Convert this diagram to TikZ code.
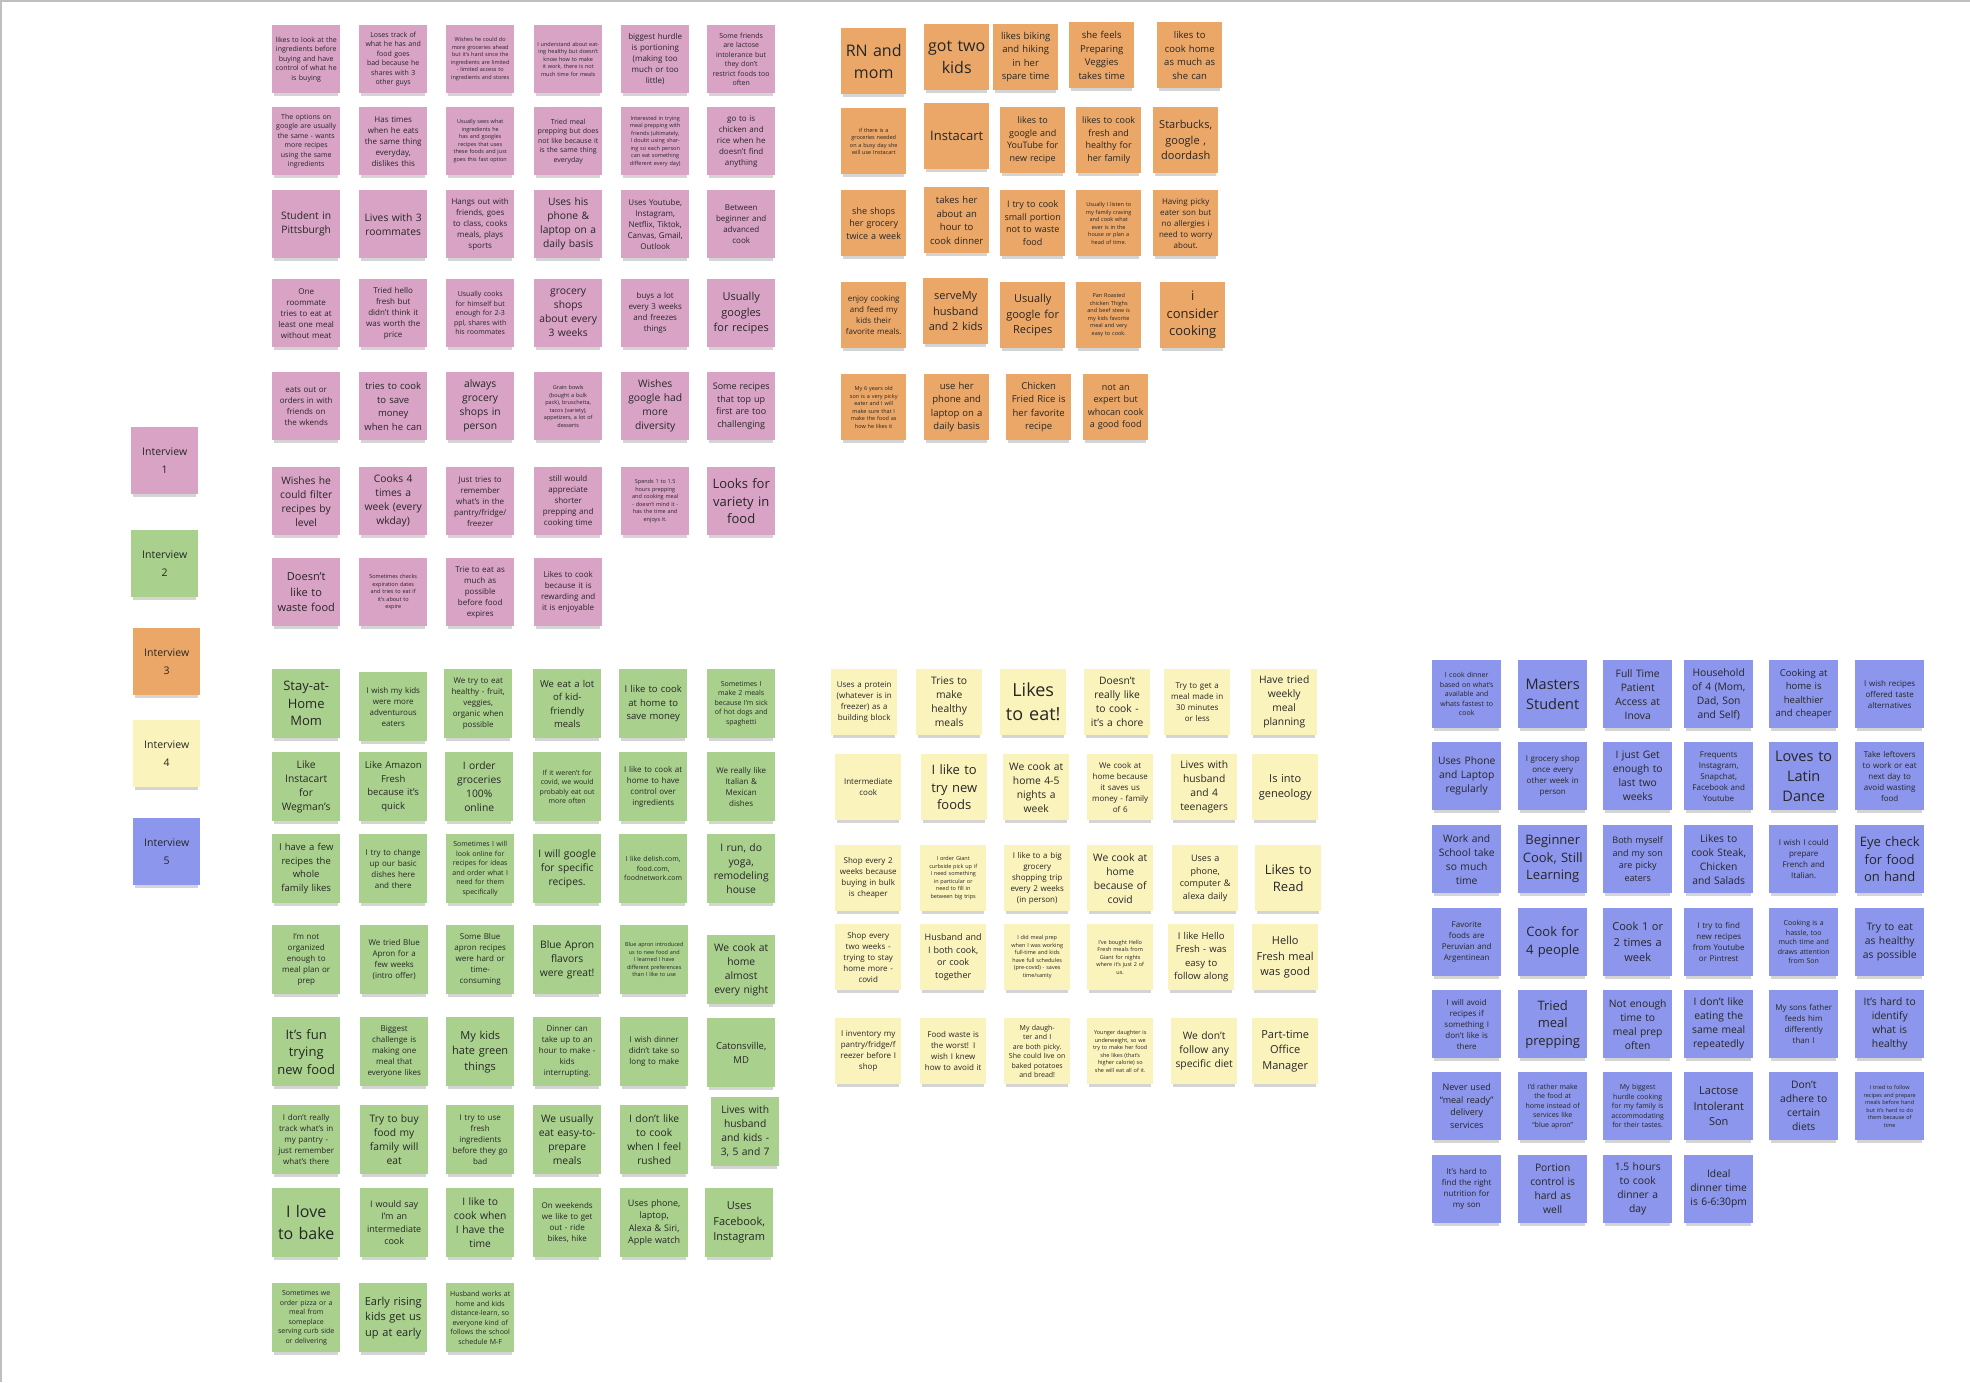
\documentclass[tikz,border=0pt]{standalone}
\usepackage{fontspec}
\setmainfont{Open Sans}
\usetikzlibrary{shadows}
\definecolor{pinkc}{RGB}{217,163,198}
\definecolor{greenc}{RGB}{169,208,141}
\definecolor{orangec}{RGB}{235,167,104}
\definecolor{yellowc}{RGB}{251,243,188}
\definecolor{bluec}{RGB}{140,150,236}
\tikzset{
 note/.style={anchor=north west, inner sep=0pt, align=center, text=black!85,
   minimum width=68pt, minimum height=68pt, text width=62pt,
   drop shadow={shadow xshift=0pt,shadow yshift=-5pt,shadow scale=0.94,opacity=0.3,fill=black!55}},
 pkn/.style={note, fill=pinkc},
 grn/.style={note, fill=greenc, minimum height=69pt},
 orn/.style={note, fill=orangec, minimum width=65pt, minimum height=66pt, text width=60pt},
 yen/.style={note, fill=yellowc, minimum width=66pt, minimum height=66pt, text width=60pt},
 bln/.style={note, fill=bluec, minimum width=69pt, minimum height=68pt},
 lgn/.style={note, minimum width=67pt, minimum height=67pt, font=\fontsize{10.5}{18}\selectfont},
 fT/.style={font=\fontsize{5.5}{7.5}\selectfont},
 fXS/.style={font=\fontsize{7}{9.5}\selectfont},
 fS/.style={font=\fontsize{8}{11}\selectfont},
 fSM/.style={font=\fontsize{9}{12.5}\selectfont},
 fMs/.style={font=\fontsize{9.5}{13.5}\selectfont},
 fM/.style={font=\fontsize{10.3}{14}\selectfont},
 fML/.style={font=\fontsize{11}{15.5}\selectfont},
 fL/.style={font=\fontsize{13}{17.5}\selectfont},
 fLL/.style={font=\fontsize{14.5}{20}\selectfont},
 fXL/.style={font=\fontsize{16}{22}\selectfont},
 fXXL/.style={font=\fontsize{18}{24}\selectfont},
}
\begin{document}
\begin{tikzpicture}[x=1pt,y=-1pt]
\useasboundingbox (0,0) rectangle (1970,1382);
\fill[white] (0,0) rectangle (1970,1382);
\draw[black!25, line width=1.5pt] (0.75,1382) -- (0.75,0.75) -- (1970,0.75);

% ---------- Legend ----------
\node[lgn, fill=pinkc] (l1) at (131,427) {Interview\\1};
\node[lgn, fill=greenc] (l2) at (131,530) {Interview\\2};
\node[lgn, fill=orangec] (l3) at (133,628) {Interview\\3};
\node[lgn, fill=yellowc] (l4) at (133,720) {Interview\\4};
\node[lgn, fill=bluec] (l5) at (133,818) {Interview\\5};

% ---------- Interview 1 (pink) ----------
\node[pkn,fXS] (p11) at (272,25) {likes to look at the\\ingredients before\\buying and have\\control of what he\\is buying};
\node[pkn,fXS] (p12) at (359,25) {Loses track of\\what he has and\\food goes\\bad because he\\shares with 3\\other guys};
\node[pkn,fT] (p13) at (446,25) {Wishes he could do more groceries ahead but it's hard since the ingredients are limited - limited access to ingredients and stores};
\node[pkn,fT] (p14) at (534,25) {I understand about eating healthy but doesn't know how to make it work, there is not much time for meals};
\node[pkn,fS] (p15) at (621,25) {biggest hurdle\\is portioning\\(making too\\much or too\\little)};
\node[pkn,fXS] (p16) at (707,25) {Some friends\\are lactose\\intolerance but\\they don't\\restrict foods too\\often};

\node[pkn,fXS] (p21) at (272,107) {The options on\\google are usually\\the same - wants\\more recipes\\using the same\\ingredients};
\node[pkn,fS] (p22) at (359,107) {Has times\\when he eats\\the same thing\\everyday,\\dislikes this};
\node[pkn,fT] (p23) at (446,107) {Usually sees what ingredients he has and googles recipes that uses these foods and just goes this fast option};
\node[pkn,fXS] (p24) at (534,107) {Tried meal\\prepping but does\\not like because it\\is the same thing\\everyday};
\node[pkn,fT] (p25) at (621,107) {Interested in trying meal prepping with friends (ultimately, I doubt using sharing so each person can eat something different every day)};
\node[pkn,fS] (p26) at (707,107) {go to is\\chicken and\\rice when he\\doesn't find\\anything};

\node[pkn,fM] (p31) at (272,190) {Student in\\Pittsburgh};
\node[pkn,fM] (p32) at (359,190) {Lives with 3\\roommates};
\node[pkn,fS] (p33) at (446,190) {Hangs out with\\friends, goes\\to class, cooks\\meals, plays\\sports};
\node[pkn,fM] (p34) at (534,190) {Uses his\\phone \&\\laptop on a\\daily basis};
\node[pkn,fS] (p35) at (621,190) {Uses Youtube,\\Instagram,\\Netflix, Tiktok,\\Canvas, Gmail,\\Outlook};
\node[pkn,fS] (p36) at (707,190) {Between\\beginner and\\advanced\\cook};

\node[pkn,fS] (p41) at (272,279) {One\\roommate\\tries to eat at\\least one meal\\without meat};
\node[pkn,fS] (p42) at (359,279) {Tried hello\\fresh but\\didn't think it\\was worth the\\price};
\node[pkn,fXS] (p43) at (446,279) {Usually cooks\\for himself but\\enough for 2-3\\ppl, shares with\\his roommates};
\node[pkn,fM] (p44) at (534,279) {grocery\\shops\\about every\\3 weeks};
\node[pkn,fS] (p45) at (621,279) {buys a lot\\every 3 weeks\\and freezes\\things};
\node[pkn,fML] (p46) at (707,279) {Usually\\googles\\for recipes};

\node[pkn,fS] (p51) at (272,372) {eats out or\\orders in with\\friends on\\the wkends};
\node[pkn,fMs] (p52) at (359,372) {tries to cook\\to save\\money\\when he can};
\node[pkn,fM] (p53) at (446,372) {always\\grocery\\shops in\\person};
\node[pkn,fT] (p54) at (534,372) {Grain bowls\\(bought a bulk\\pack), bruschetta,\\tacos (variety),\\appetizers, a lot of\\desserts};
\node[pkn,fM] (p55) at (621,372) {Wishes\\google had\\more\\diversity};
\node[pkn,fSM] (p56) at (707,372) {Some recipes\\that top up\\first are too\\challenging};

\node[pkn,fM] (p61) at (272,467) {Wishes he\\could filter\\recipes by\\level};
\node[pkn,fM] (p62) at (359,467) {Cooks 4\\times a\\week (every\\wkday)};
\node[pkn,fS] (p63) at (446,467) {Just tries to\\remember\\what's in the\\pantry/fridge/\\freezer};
\node[pkn,fS] (p64) at (534,467) {still would\\appreciate\\shorter\\prepping and\\cooking time};
\node[pkn,fT] (p65) at (621,467) {Spends 1 to 1.5\\hours prepping\\and cooking meal\\- doesn't mind it -\\has the time and\\enjoys it.};
\node[pkn,fL] (p66) at (707,467) {Looks for\\variety in\\food};

\node[pkn,fML] (p71) at (272,558) {Doesn't\\like to\\waste food};
\node[pkn,fT] (p72) at (359,558) {Sometimes checks\\expiration dates\\and tries to eat if\\it's about to\\expire};
\node[pkn,fS] (p73) at (446,558) {Trie to eat as\\much as\\possible\\before food\\expires};
\node[pkn,fS] (p74) at (534,558) {Likes to cook\\because it is\\rewarding and\\it is enjoyable};

% ---------- Interview 3 (orange) ----------
\node[orn,fXL] (o11) at (841,28) {RN and\\mom};
\node[orn,fXL] (o12) at (924,24) {got two\\kids};
\node[orn,fMs] (o13) at (993,24) {likes biking\\and hiking\\in her\\spare time};
\node[orn,fMs] (o14) at (1069,22) {she feels\\Preparing\\Veggies\\takes time};
\node[orn,fMs] (o15) at (1157,22) {likes to\\cook home\\as much as\\she can};

\node[orn,fT] (o21) at (841,108) {if there is a\\groceries needed\\on a busy day she\\will use Instacart};
\node[orn,fL] (o22) at (924,103) {Instacart};
\node[orn,fSM] (o23) at (1000,107) {likes to\\google and\\YouTube for\\new recipe};
\node[orn,fSM] (o24) at (1076,107) {likes to cook\\fresh and\\healthy for\\her family};
\node[orn,fML] (o25) at (1153,107) {Starbucks,\\google ,\\doordash};

\node[orn,fSM] (o31) at (841,190) {she shops\\her grocery\\twice a week};
\node[orn,fMs] (o32) at (924,187) {takes her\\about an\\hour to\\cook dinner};
\node[orn,fSM] (o33) at (1000,190) {I try to cook\\small portion\\not to waste\\food};
\node[orn,fT] (o34) at (1076,190) {Usually I listen to\\my family craving\\and cook what\\ever is in the\\house or plan a\\head of time.};
\node[orn,fS] (o35) at (1153,190) {Having picky\\eater son but\\no allergies i\\need to worry\\about.};

\node[orn,fS] (o41) at (841,282) {enjoy cooking\\and feed my\\kids their\\favorite meals.};
\node[orn,fML] (o42) at (923,278) {serveMy\\husband\\and 2 kids};
\node[orn,fML] (o43) at (1000,282) {Usually\\google for\\Recipes};
\node[orn,fT] (o44) at (1076,282) {Pan Roasted\\chicken Thighs\\and beef stew is\\my kids favorite\\meal and very\\easy to cook.};
\node[orn,fL] (o45) at (1160,282) {i\\consider\\cooking};

\node[orn,fT] (o51) at (841,374) {My 6 years old\\son is a very picky\\eater and I will\\make sure that I\\make the food as\\how he likes it};
\node[orn,fMs] (o52) at (924,374) {use her\\phone and\\laptop on a\\daily basis};
\node[orn,fMs] (o53) at (1006,374) {Chicken\\Fried Rice is\\her favorite\\recipe};
\node[orn,fSM] (o54) at (1083,374) {not an\\expert but\\whocan cook\\a good food};

% ---------- Interview 2 (green) ----------
\node[grn,fL] (g11) at (272,669) {Stay-at-\\Home\\Mom};
\node[grn,fS] (g12) at (359,672) {I wish my kids\\were more\\adventurous\\eaters};
\node[grn,fS] (g13) at (444,669) {We try to eat\\healthy - fruit,\\veggies,\\organic when\\possible};
\node[grn,fMs] (g14) at (533,669) {We eat a lot\\of kid-\\friendly\\meals};
\node[grn,fMs] (g15) at (619,669) {I like to cook\\at home to\\save money};
\node[grn,fXS] (g16) at (707,669) {Sometimes I\\make 2 meals\\because I'm sick\\of hot dogs and\\spaghetti};

\node[grn,fM] (g21) at (272,752) {Like\\Instacart\\for\\Wegman's};
\node[grn,fMs] (g22) at (359,752) {Like Amazon\\Fresh\\because it's\\quick};
\node[grn,fM] (g23) at (445,752) {I order\\groceries\\100\%\\online};
\node[grn,fXS] (g24) at (533,752) {If it weren't for\\covid, we would\\probably eat out\\more often};
\node[grn,fS] (g25) at (619,752) {I like to cook at\\home to have\\control over\\ingredients};
\node[grn,fS] (g26) at (707,752) {We really like\\Italian \&\\Mexican\\dishes};

\node[grn,fMs] (g31) at (272,834) {I have a few\\recipes the\\whole\\family likes};
\node[grn,fS] (g32) at (359,834) {I try to change\\up our basic\\dishes here\\and there};
\node[grn,fXS] (g33) at (446,834) {Sometimes I will\\look online for\\recipes for ideas\\and order what I\\need for them\\specifically};
\node[grn,fM] (g34) at (533,834) {I will google\\for specific\\recipes.};
\node[grn,fXS] (g35) at (619,834) {I like delish.com,\\food.com,\\foodnetwork.com};
\node[grn,fM] (g36) at (707,834) {I run, do\\yoga,\\remodeling\\house};

\node[grn,fS] (g41) at (272,925) {I'm not\\organized\\enough to\\meal plan or\\prep};
\node[grn,fS] (g42) at (360,925) {We tried Blue\\Apron for a\\few weeks\\(intro offer)};
\node[grn,fS] (g43) at (446,925) {Some Blue\\apron recipes\\were hard or\\time-\\consuming};
\node[grn,fM] (g44) at (533,925) {Blue Apron\\flavors\\were great!};
\node[grn,fT] (g45) at (620,925) {Blue apron introduced us to new food and I learned I have different preferences than I like to use};
\node[grn,fM] (g46) at (707,935) {We cook at\\home\\almost\\every night};

\node[grn,fL] (g51) at (272,1017) {It's fun\\trying\\new food};
\node[grn,fS] (g52) at (360,1017) {Biggest\\challenge is\\making one\\meal that\\everyone likes};
\node[grn,fML] (g53) at (446,1017) {My kids\\hate green\\things};
\node[grn,fS] (g54) at (533,1017) {Dinner can\\take up to an\\hour to make -\\kids\\interrupting.};
\node[grn,fS] (g55) at (620,1017) {I wish dinner\\didn't take so\\long to make};
\node[grn,fMs] (g56) at (707,1018) {Catonsville,\\MD};

\node[grn,fS] (g61) at (272,1105) {I don't really\\track what's in\\my pantry -\\just remember\\what's there};
\node[grn,fM] (g62) at (360,1105) {Try to buy\\food my\\family will\\eat};
\node[grn,fS] (g63) at (446,1105) {I try to use\\fresh\\ingredients\\before they go\\bad};
\node[grn,fM] (g64) at (533,1105) {We usually\\eat easy-to-\\prepare\\meals};
\node[grn,fM] (g65) at (620,1105) {I don't like\\to cook\\when I feel\\rushed};
\node[grn,fM] (g66) at (711,1097) {Lives with\\husband\\and kids -\\3, 5 and 7};

\node[grn,fXL] (g71) at (272,1188) {I love\\to bake};
\node[grn,fSM] (g72) at (360,1188) {I would say\\I'm an\\intermediate\\cook};
\node[grn,fM] (g73) at (446,1188) {I like to\\cook when\\I have the\\time};
\node[grn,fS] (g74) at (533,1188) {On weekends\\we like to get\\out - ride\\bikes, hike};
\node[grn,fSM] (g75) at (620,1188) {Uses phone,\\laptop,\\Alexa \& Siri,\\Apple watch};
\node[grn,fML] (g76) at (705,1188) {Uses\\Facebook,\\Instagram};

\node[grn,fXS] (g81) at (272,1283) {Sometimes we\\order pizza or a\\meal from\\someplace\\serving curb side\\or delivering};
\node[grn,fML] (g82) at (359,1283) {Early rising\\kids get us\\up at early};
\node[grn,fXS] (g83) at (446,1283) {Husband works at\\home and kids\\distance-learn, so\\everyone kind of\\follows the school\\schedule M-F};

% ---------- Interview 4 (yellow) ----------
\node[yen,fS] (y11) at (831,669) {Uses a protein\\(whatever is in\\freezer) as a\\building block};
\node[yen,fM] (y12) at (916,669) {Tries to\\make\\healthy\\meals};
\node[yen,fXXL] (y13) at (1000,669) {Likes\\to eat!};
\node[yen,fM] (y14) at (1084,669) {Doesn't\\really like\\to cook -\\it's a chore};
\node[yen,fS] (y15) at (1164,669) {Try to get a\\meal made in\\30 minutes\\or less};
\node[yen,fM] (y16) at (1251,669) {Have tried\\weekly\\meal\\planning};

\node[yen,fS] (y21) at (835,754) {Intermediate\\cook};
\node[yen,fL] (y22) at (921,754) {I like to\\try new\\foods};
\node[yen,fM] (y23) at (1003,754) {We cook at\\home 4-5\\nights a\\week};
\node[yen,fS] (y24) at (1087,754) {We cook at\\home because\\it saves us\\money - family\\of 6};
\node[yen,fM] (y25) at (1171,754) {Lives with\\husband\\and 4\\teenagers};
\node[yen,fML] (y26) at (1252,754) {Is into\\geneology};

\node[yen,fS] (y31) at (835,845) {Shop every 2\\weeks because\\buying in bulk\\is cheaper};
\node[yen,fT] (y32) at (920,845) {I order Giant\\curbside pick up if\\I need something\\in particular or\\need to fill in\\between big trips};
\node[yen,fS] (y33) at (1004,845) {I like to a big\\grocery\\shopping trip\\every 2 weeks\\(in person)};
\node[yen,fM] (y34) at (1087,845) {We cook at\\home\\because of\\covid};
\node[yen,fSM] (y35) at (1172,845) {Uses a\\phone,\\computer \&\\alexa daily};
\node[yen,fL] (y36) at (1255,845) {Likes to\\Read};

\node[yen,fS] (y41) at (835,924) {Shop every\\two weeks -\\trying to stay\\home more -\\covid};
\node[yen,fSM] (y42) at (920,924) {Husband and\\I both cook,\\or cook\\together};
\node[yen,fT] (y43) at (1004,924) {I did meal prep\\when I was working\\full-time and kids\\have full schedules\\(pre-covid) - saves\\time/sanity};
\node[yen,fT] (y44) at (1087,924) {I've bought Hello\\Fresh meals from\\Giant for nights\\where it's just 2 of\\us.};
\node[yen,fMs] (y45) at (1168,924) {I like Hello\\Fresh - was\\easy to\\follow along};
\node[yen,fML] (y46) at (1252,924) {Hello\\Fresh meal\\was good};

\node[yen,fS] (y51) at (835,1018) {I inventory my\\pantry/fridge/f\\reezer before I\\shop};
\node[yen,fS] (y52) at (920,1018) {Food waste is\\the worst! I\\wish I knew\\how to avoid it};
\node[yen,fXS] (y53) at (1004,1018) {My daughter and I\\are both picky.\\She could live on\\baked potatoes\\and bread!};
\node[yen,fT] (y54) at (1087,1018) {Younger daughter is\\underweight, so we\\try to make her food\\she likes (that's\\higher calorie) so\\she will eat all of it.};
\node[yen,fM] (y55) at (1171,1018) {We don't\\follow any\\specific diet};
\node[yen,fML] (y56) at (1252,1018) {Part-time\\Office\\Manager};

% ---------- Interview 5 (blue) ----------
\node[bln,fXS] (b11) at (1432,660) {I cook dinner\\based on what's\\available and\\whats fastest to\\cook};
\node[bln,fLL] (b12) at (1518,660) {Masters\\Student};
\node[bln,fM] (b13) at (1603,660) {Full Time\\Patient\\Access at\\Inova};
\node[bln,fM] (b14) at (1684,660) {Household\\of 4 (Mom,\\Dad, Son\\and Self)};
\node[bln,fMs] (b15) at (1769,660) {Cooking at\\home is\\healthier\\and cheaper};
\node[bln,fS] (b16) at (1855,660) {I wish recipes\\offered taste\\alternatives};

\node[bln,fM] (b21) at (1432,742) {Uses Phone\\and Laptop\\regularly};
\node[bln,fS] (b22) at (1518,742) {I grocery shop\\once every\\other week in\\person};
\node[bln,fM] (b23) at (1603,742) {I just Get\\enough to\\last two\\weeks};
\node[bln,fS] (b24) at (1684,742) {Frequents\\Instagram,\\Snapchat,\\Facebook and\\Youtube};
\node[bln,fLL] (b25) at (1769,742) {Loves to\\Latin\\Dance};
\node[bln,fS] (b26) at (1855,742) {Take leftovers\\to work or eat\\next day to\\avoid wasting\\food};

\node[bln,fM] (b31) at (1432,825) {Work and\\School take\\so much\\time};
\node[bln,fL] (b32) at (1518,825) {Beginner\\Cook, Still\\Learning};
\node[bln,fSM] (b33) at (1603,825) {Both myself\\and my son\\are picky\\eaters};
\node[bln,fM] (b34) at (1684,825) {Likes to\\cook Steak,\\Chicken\\and Salads};
\node[bln,fS] (b35) at (1769,825) {I wish I could\\prepare\\French and\\Italian.};
\node[bln,fL] (b36) at (1855,825) {Eye check\\for food\\on hand};

\node[bln,fS] (b41) at (1432,908) {Favorite\\foods are\\Peruvian and\\Argentinean};
\node[bln,fL] (b42) at (1518,908) {Cook for\\4 people};
\node[bln,fML] (b43) at (1603,908) {Cook 1 or\\2 times a\\week};
\node[bln,fS] (b44) at (1684,908) {I try to find\\new recipes\\from Youtube\\or Pintrest};
\node[bln,fXS] (b45) at (1769,908) {Cooking is a\\hassle, too\\much time and\\draws attention\\from Son};
\node[bln,fM] (b46) at (1855,908) {Try to eat\\as healthy\\as possible};

\node[bln,fS] (b51) at (1432,990) {I will avoid\\recipes if\\something I\\don't like is\\there};
\node[bln,fL] (b52) at (1518,990) {Tried\\meal\\prepping};
\node[bln,fM] (b53) at (1603,990) {Not enough\\time to\\meal prep\\often};
\node[bln,fM] (b54) at (1684,990) {I don't like\\eating the\\same meal\\repeatedly};
\node[bln,fS] (b55) at (1769,990) {My sons father\\feeds him\\differently\\than I};
\node[bln,fM] (b56) at (1855,990) {It's hard to\\identify\\what is\\healthy};

\node[bln,fSM] (b61) at (1432,1072) {Never used\\“meal ready”\\delivery\\services};
\node[bln,fXS] (b62) at (1518,1072) {I'd rather make\\the food at\\home instead of\\services like\\“blue apron”};
\node[bln,fXS] (b63) at (1603,1072) {My biggest\\hurdle cooking\\for my family is\\accommodating\\for their tastes.};
\node[bln,fML] (b64) at (1684,1072) {Lactose\\Intolerant\\Son};
\node[bln,fM] (b65) at (1769,1072) {Don't\\adhere to\\certain\\diets};
\node[bln,fT] (b66) at (1855,1072) {I tried to follow\\recipes and prepare\\meals before hand\\but it's hard to do\\them because of\\time};

\node[bln,fS] (b71) at (1432,1155) {It's hard to\\find the right\\nutrition for\\my son};
\node[bln,fM] (b72) at (1518,1155) {Portion\\control is\\hard as\\well};
\node[bln,fM] (b73) at (1603,1155) {1.5 hours\\to cook\\dinner a\\day};
\node[bln,fM] (b74) at (1684,1155) {Ideal\\dinner time\\is 6-6:30pm};
\end{tikzpicture}
\end{document}
